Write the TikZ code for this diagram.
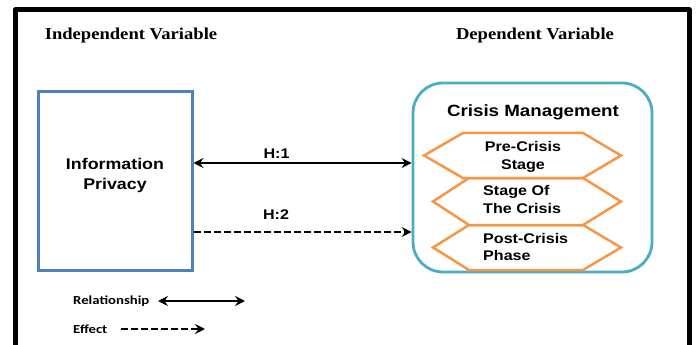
\documentclass[tikz,border=0pt]{standalone}
\usepackage{fontspec}
\usetikzlibrary{arrows.meta}
\newfontfamily\hdrfont{Liberation Serif}[FakeStretch=1.12]
\newfontfamily\arfont{Liberation Sans}[FakeStretch=1.15]
\newfontfamily\calfont{Carlito}[FakeStretch=1.2]
\definecolor{ipblue}{HTML}{4F81BD}
\definecolor{cmteal}{HTML}{4BACC6}
\definecolor{hexorange}{HTML}{F79646}
\tikzset{
  hdr/.style={inner sep=0pt, anchor=base, font=\hdrfont\bfseries\fontsize{16.6}{20}\selectfont},
  lbl/.style={inner sep=0pt, font=\arfont\bfseries\fontsize{14}{17.5}\selectfont},
  hexshape/.style={draw=hexorange, line width=2.5pt, fill=white, line join=miter},
  leg/.style={inner sep=0pt, anchor=west, font=\calfont\bfseries\fontsize{12.3}{14}\selectfont},
  tip/.style={line width=2.3pt, {Stealth[length=10pt,width=10pt,inset=3.5pt]}-{Stealth[length=10pt,width=10pt,inset=3.5pt]}},
  eff/.style={line width=2.3pt, dash pattern=on 7pt off 3pt, -{Stealth[length=10pt,width=10pt,inset=3.5pt]}},
}
\begin{document}
\begin{tikzpicture}[x=1pt,y=-1pt]
\useasboundingbox (0,0) rectangle (697,345);
% outer frame
\draw[line width=5pt, line join=round] (15,10) rectangle (689,347);
% headers
\node[hdr] (hind) at (131,40) {Independent Variable};
\node[hdr] (hdep) at (535,40) {Dependent Variable};
% independent variable box
\node[draw=ipblue, line width=3pt, minimum width=154pt, minimum height=178pt, inner sep=0pt] (ip) at (115,181) {};
\node[inner sep=0pt, align=center, font=\arfont\bfseries\fontsize{15.5}{20}\selectfont] (iptext) at (115,175) {Information\\Privacy};
% dependent variable box
\node[draw=cmteal, line width=2.8pt, rounded corners=30pt, minimum width=239pt, minimum height=189pt, inner sep=0pt] (cm) at (532.5,177.5) {};
\node[inner sep=0pt, anchor=base, font=\arfont\bfseries\fontsize{16.3}{20}\selectfont] (cmtitle) at (533,117) {Crisis Management};
% hexagons
\draw[hexshape] (433,247.5) -- (469,225) -- (583,225) -- (621,247.5) -- (583,270) -- (469,270) -- cycle;
\draw[hexshape] (433,201.5) -- (469,178) -- (583,178) -- (621,201.5) -- (583,225) -- (469,225) -- cycle;
\draw[hexshape] (424,155.5) -- (463,133) -- (583,133) -- (621,155.5) -- (583,178) -- (463,178) -- cycle;
\node[lbl, align=center] (pre) at (523,157) {Pre-Crisis\\Stage};
\node[lbl, align=left, anchor=west] (mid) at (483,199.5) {Stage Of\\The Crisis};
\node[lbl, align=left, anchor=west] (post) at (483,247) {Post-Crisis\\Phase};
% hypotheses arrows
\draw[tip] (ip.east |- 0,163) -- (cm.west |- 0,163);
\draw[eff] (ip.east |- 0,232) -- (cm.west |- 0,232);
\node[lbl, anchor=base] (h1) at (276.5,158) {H:1};
\node[lbl, anchor=base] (h2) at (276,219) {H:2};
% legend
\node[leg] (lrel) at (73,301) {Relationship};
\node[leg] (leff) at (73,329) {Effect};
\coordinate (ra) at (158,301);
\coordinate (rb) at (245,301);
\coordinate (ea) at (121,329);
\coordinate (eb) at (205,329);
\draw[tip] (ra) -- (rb);
\draw[eff] (ea) -- (eb);
\end{tikzpicture}
\end{document}
